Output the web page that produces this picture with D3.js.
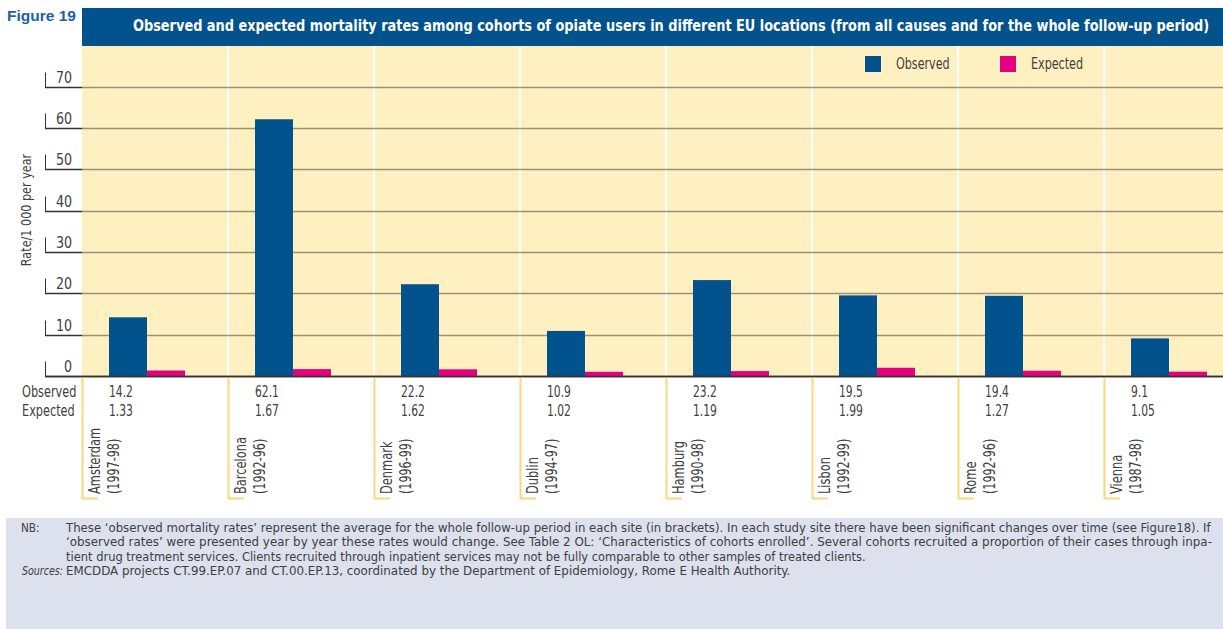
<!DOCTYPE html>
<html>
<head>
<meta charset="utf-8">
<script src="https://cdn.jsdelivr.net/npm/d3@7"></script>
<style>
  html, body { margin: 0; padding: 0; background: #ffffff; }
  svg { display: block; }
  text { font-family: "Liberation Sans Narrow", "DejaVu Sans Condensed", "Roboto", sans-serif; fill: #404040; }
</style>
</head>
<body>
<svg id="chart" width="1223" height="629"></svg>
<script>
// Cohort sites with follow-up period
const sites = ["Amsterdam", "Barcelona", "Denmark", "Dublin", "Hamburg", "Lisbon", "Rome", "Vienna"];
const periods = ["(1997-98)", "(1992-96)", "(1996-99)", "(1994-97)", "(1990-98)", "(1992-99)", "(1992-96)", "(1987-98)"];
// Mortality rates per 1 000 per year
const observed = [14.2, 62.1, 22.2, 10.9, 23.2, 19.5, 19.4, 9.1];
const expected = [1.33, 1.67, 1.62, 1.02, 1.19, 1.99, 1.27, 1.05];
const observedLabels = ["14.2", "62.1", "22.2", "10.9", "23.2", "19.5", "19.4", "9.1"];
const expectedLabels = ["1.33", "1.67", "1.62", "1.02", "1.19", "1.99", "1.27", "1.05"];
const yTicks = [0, 10, 20, 30, 40, 50, 60, 70];
const seriesNames = ["Observed", "Expected"];

const title = "Observed and expected mortality rates among cohorts of opiate users in different EU locations (from all causes and for the whole follow-up period)";
const noteLines = [
  "These \u2018observed mortality rates\u2019 represent the average for the whole follow-up period in each site (in brackets). In each study site there have been significant changes over time (see Figure18). If",
  "\u2018observed rates\u2019 were presented year by year these rates would change. See Table 2 OL: \u2018Characteristics of cohorts enrolled\u2019. Several cohorts recruited a proportion of their cases through inpa-",
  "tient drug treatment services. Clients recruited through inpatient services may not be fully comparable to other samples of treated clients."
];
const sourceText = "EMCDDA projects CT.99.EP.07 and CT.00.EP.13, coordinated by the Department of Epidemiology, Rome E Health Authority.";

const BLUE = "#02528e";
const MAGENTA = "#e5007e";
const CREAM = "#fff0c2";

const W = 1223, H = 629;
const plotLeft = 82, plotTop = 46, plotBottom = 376;
const groupW = 146;

const svg = d3.select("#chart");

// Text in a condensed style: drawn at a given size, then squeezed horizontally
// either by a fixed factor or to an exact width.
function label(parent, o) {
  const g = parent.append("g")
    .attr("transform", `translate(${o.x},${o.y})` + (o.rotate ? ` rotate(${o.rotate})` : ""));
  const t = g.append("text")
    .attr("text-anchor", o.anchor || "start")
    .style("font-size", (o.size || 15.5) + "px")
    .text(o.text);
  if (o.weight) t.style("font-weight", o.weight);
  if (o.italic) t.style("font-style", "italic");
  if (o.fill) t.style("fill", o.fill);
  if (o.family) t.style("font-family", o.family);
  const natural = t.node().getComputedTextLength();
  const s = o.width ? o.width / natural : (o.factor || 0.8);
  t.attr("transform", `scale(${s},1)`);
  return t;
}

const x0 = d3.scaleBand().domain(sites).range([plotLeft, plotLeft + groupW * sites.length]).padding(0);
const x1 = d3.scaleBand().domain(seriesNames).range([27, 103]).padding(0);
const y = d3.scaleLinear().domain([0, 70]).range([plotBottom, 86.6]);
const color = d3.scaleOrdinal().domain(seriesNames).range([BLUE, MAGENTA]);

// Figure number
label(svg, { x: 7, y: 21, text: "Figure 19", size: 15, weight: "bold", fill: "#1d5ea8",
  family: "'Liberation Sans', Arial, sans-serif", width: 69 });

// Header band with title
svg.append("rect").attr("x", plotLeft).attr("y", 8).attr("width", W - plotLeft).attr("height", plotTop - 8).attr("fill", BLUE);
label(svg, { x: 133, y: 31, text: title, size: 15.5, weight: "bold", fill: "#ffffff", width: 1077 });

// Plot background
svg.append("rect").attr("x", plotLeft).attr("y", plotTop).attr("width", W - plotLeft).attr("height", plotBottom - plotTop).attr("fill", CREAM);

// Column separators
svg.append("g").selectAll("line").data(sites.slice(1)).join("line")
  .attr("x1", d => x0(d)).attr("x2", d => x0(d))
  .attr("y1", plotTop).attr("y2", plotBottom)
  .attr("stroke", "#ffffff").attr("stroke-width", 2);

// Gridlines and tick labels
const grid = svg.append("g");
yTicks.forEach(t => {
  const yy = Math.round(y(t)) + 0.5;
  grid.append("line").attr("x1", 45).attr("x2", plotLeft).attr("y1", yy).attr("y2", yy)
    .attr("stroke", "#333").attr("stroke-width", 1.5);
  grid.append("line").attr("x1", plotLeft).attr("x2", W).attr("y1", yy).attr("y2", yy)
    .attr("stroke", "#333").attr("stroke-width", 1.5).attr("stroke-opacity", t === 0 ? 1 : 0.5);
  grid.append("line").attr("x1", 45.5).attr("x2", 45.5).attr("y1", yy).attr("y2", yy - 15)
    .attr("stroke", "#333").attr("stroke-width", 1);
  label(grid, { x: 72, y: yy - 5, text: String(t), size: 16, anchor: "end", factor: 0.88 });
});

// Y axis title
label(svg, { x: 31, y: 210, rotate: -90, text: "Rate/1 000 per year", size: 14.5, anchor: "middle", factor: 0.86 });

// Bars
const rows = sites.map((s, i) => ({ site: s, values: [observed[i], expected[i]] }));
const groups = svg.append("g").selectAll("g").data(rows).join("g")
  .attr("transform", d => `translate(${x0(d.site)},0)`);
groups.selectAll("rect").data(d => d.values.map((v, k) => ({ key: seriesNames[k], v })))
  .join("rect")
  .attr("x", d => x1(d.key)).attr("width", x1.bandwidth())
  .attr("y", d => y(d.v)).attr("height", d => y(0) - y(d.v))
  .attr("fill", d => color(d.key));

// Zero baseline over the bar bottoms
svg.append("line").attr("x1", 45).attr("x2", W).attr("y1", Math.round(y(0)) + 0.5).attr("y2", Math.round(y(0)) + 0.5)
  .attr("stroke", "#333").attr("stroke-width", 1.5);

// Value table beneath the axis
label(svg, { x: 22, y: 397, text: "Observed", factor: 0.81 });
label(svg, { x: 22, y: 416, text: "Expected", factor: 0.81 });
groups.each(function (d, i) {
  const g = d3.select(this);
  label(g, { x: 27, y: 397, text: observedLabels[i], factor: 0.77 });
  label(g, { x: 27, y: 416, text: expectedLabels[i], factor: 0.77 });
  // Site name and period, with a bracket line down from the column edge
  g.append("path")
    .attr("d", `M0.5,${plotBottom + 1} V498.5 H16`)
    .attr("fill", "none").attr("stroke", "#fdd680").attr("stroke-width", 2);
  label(g, { x: 18, y: 494, rotate: -90, text: d.site, factor: 0.82 });
  label(g, { x: 37, y: 494, rotate: -90, text: periods[i], factor: 0.8 });
});

// Legend
const legend = svg.append("g");
[[865, 896], [1000, 1031]].forEach((p, k) => {
  legend.append("rect").attr("x", p[0]).attr("y", 56).attr("width", 16).attr("height", 16).attr("fill", color(seriesNames[k]));
  label(legend, { x: p[1], y: 69, text: seriesNames[k], factor: 0.8 });
});

// Notes box
svg.append("rect").attr("x", 6).attr("y", 518).attr("width", W - 6).attr("height", H - 518).attr("fill", "#dce1ed");
const noteY = [532, 546.3, 560.6];
const noteWidths = [1146, 1147, 800];
label(svg, { x: 21, y: noteY[0], text: "NB:", size: 13, factor: 0.9 });
noteLines.forEach((line, i) => {
  label(svg, { x: 66, y: noteY[i], text: line, size: 13, width: noteWidths[i] });
});
label(svg, { x: 22, y: 575, text: "Sources:", size: 13, italic: true, width: 41 });
label(svg, { x: 66, y: 575, text: sourceText, size: 13, width: 725 });
</script>
</body>
</html>
